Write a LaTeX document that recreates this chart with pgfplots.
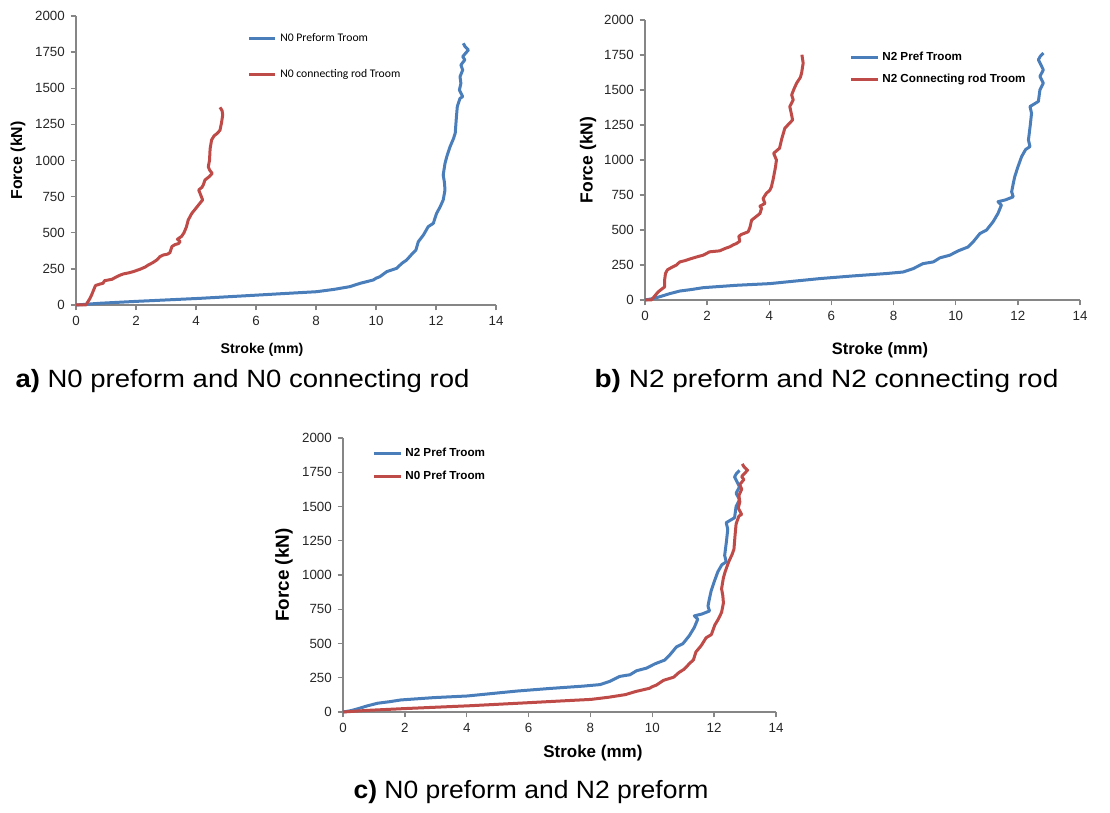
\documentclass[border=0pt]{standalone}
\usepackage{pgfplots}
\pgfplotsset{compat=1.18}
\usepackage{pgfplotstable}
\usepackage{fontspec}
\setmainfont{Liberation Sans}
\newfontfamily\calfont{Carlito}

\definecolor{xlblue}{HTML}{4A7EBB}
\definecolor{xlred}{HTML}{BE4B48}
\definecolor{xlgray}{HTML}{868686}

% Force-stroke records (stroke in mm, force in kN)
\pgfplotstableread{
x y
0 0
0.8 12
2 25
4.13 46
6 68
7 80
8.02 92
8.6 108
9.13 127
9.47 150
9.91 173
10.0 185
10.13 196
10.36 231
10.69 254
10.86 288
11.02 311
11.24 362
11.33 380
11.41 438
11.58 484
11.74 542
11.91 565
12.02 634
12.14 680
12.24 727
12.3 796
12.28 850
12.24 900
12.3 980
12.36 1027
12.47 1096
12.58 1150
12.64 1188
12.68 1300
12.71 1373
12.8 1430
12.89 1442
12.78 1488
12.83 1534
12.8 1580
12.89 1626
12.83 1661
12.96 1696
12.89 1719
13.08 1765
12.97 1788
12.91 1811
}\NzeroPref

\pgfplotstableread{
x y
0 0
0.33 0
0.45 40
0.52 69
0.6 110
0.65 135
0.8 145
0.9 150
0.95 168
1.05 172
1.2 178
1.36 196
1.45 205
1.58 215
1.75 222
1.91 231
2.13 247
2.3 262
2.41 277
2.55 292
2.69 311
2.8 335
2.91 346
3.05 352
3.13 362
3.2 405
3.3 418
3.42 425
3.47 440
3.38 455
3.45 465
3.52 475
3.6 500
3.68 540
3.74 588
3.86 634
4.0 670
4.13 704
4.22 727
4.15 765
4.09 796
4.2 815
4.24 830
4.3 865
4.45 890
4.54 911
4.45 935
4.41 957
4.45 1000
4.47 1080
4.52 1142
4.6 1170
4.72 1190
4.8 1210
4.85 1260
4.89 1315
4.87 1345
4.8 1368
}\NzeroRod

\pgfplotstableread{
x y
0 0
0.26 10
0.5 25
0.79 45
1.12 64
1.5 75
1.87 88
2.94 105
4.02 117
5.09 141
5.63 153
6.7 172
7.77 189
8.31 200
8.63 224
8.95 260
9.28 272
9.49 301
9.81 320
10.08 351
10.4 379
10.56 415
10.78 475
10.99 499
11.2 558
11.36 618
11.47 678
11.36 702
11.6 715
11.85 737
11.8 773
11.85 830
11.9 881
12.0 950
12.12 1024
12.25 1075
12.39 1096
12.34 1143
12.4 1250
12.44 1334
12.39 1382
12.66 1418
12.71 1501
12.82 1549
12.71 1597
12.82 1644
12.66 1716
12.72 1740
12.82 1764
}\NtwoPref

\pgfplotstableread{
x y
0 0
0.2 0
0.3 25
0.42 57
0.55 80
0.63 93
0.63 141
0.66 190
0.72 215
0.85 232
1.0 248
1.12 272
1.3 282
1.49 296
1.7 310
1.87 320
2.08 344
2.4 351
2.6 370
2.73 380
2.85 395
2.94 403
3.05 420
3.02 455
3.1 468
3.32 487
3.38 520
3.43 570
3.6 600
3.7 618
3.75 654
3.7 670
3.86 690
3.8 725
3.9 760
4.02 785
4.07 809
4.1 840
4.12 857
4.2 950
4.23 1000
4.14 1048
4.33 1084
4.4 1150
4.5 1227
4.75 1286
4.72 1320
4.66 1382
4.77 1430
4.72 1465
4.8 1510
4.88 1549
5.0 1590
5.04 1621
5.09 1692
5.05 1752
}\NtwoRod

\pgfplotsset{
  fdstyle/.style={
    scale only axis,
    axis lines=left,
    axis line style={xlgray, line width=0.8pt, -},
    xmin=0, xmax=14, ymin=0, ymax=2000,
    xtick={0,2,...,14},
    ytick={0,250,...,2000},
    tick align=outside,
    major tick length=3.2pt,
    tick style={xlgray, line width=0.8pt},
    /pgf/number format/assume math mode=true,
    /pgf/number format/1000 sep={},
    ticklabel style={font=\fontsize{8}{9}\selectfont, text=black!85},
    clip=false,
    legend cell align=left,
    legend image code/.code={\draw[#1] (0pt,0pt) -- (16pt,0pt);},
    every axis plot/.append style={line width=1.8pt, line join=round, mark=none},
  }
}

\begin{document}
\begin{tikzpicture}
\useasboundingbox (0,0) rectangle (666pt,487.2pt);

% a) N0 preform and N0 connecting rod
\begin{axis}[fdstyle,
  at={(45.6pt,304.2pt)}, anchor=south west,
  width=252pt, height=173.4pt,
  xlabel={Stroke (mm)}, ylabel={Force (kN)},
  xlabel style={at={(axis description cs:0.443,0)}, anchor=center, yshift=-27pt, font=\bfseries\fontsize{8.5}{10}\selectfont},
  ylabel style={at={(axis description cs:0,0.5)}, anchor=center, yshift=34.8pt, font=\bfseries\fontsize{9.5}{11}\selectfont},
  legend style={at={(axis description cs:0.407,0.952)}, anchor=north west,
    draw=none, fill=none, inner sep=0pt, row sep=11pt,
    font=\calfont\fontsize{7}{8}\selectfont},
]
\addplot[xlblue] table {\NzeroPref};
\addlegendentry{N0 Preform Troom}
\addplot[xlred] table {\NzeroRod};
\addlegendentry{N0 connecting rod Troom}
\end{axis}

% b) N2 preform and N2 connecting rod
\begin{axis}[fdstyle,
  at={(387pt,307.2pt)}, anchor=south west,
  width=261pt, height=168pt,
  xlabel={Stroke (mm)}, ylabel={Force (kN)},
  xlabel style={at={(axis description cs:0.54,0)}, anchor=center, yshift=-30pt, font=\bfseries\fontsize{9.9}{11}\selectfont},
  ylabel style={at={(axis description cs:0,0.5)}, anchor=center, yshift=34.2pt, font=\bfseries\fontsize{10.5}{12}\selectfont},
  legend style={at={(axis description cs:0.469,0.9)}, anchor=north west,
    draw=none, fill=none, inner sep=0pt, row sep=3pt,
    font=\bfseries\fontsize{7}{8}\selectfont},
]
\addplot[xlblue] table {\NtwoPref};
\addlegendentry{N2 Pref Troom}
\addplot[xlred] table {\NtwoRod};
\addlegendentry{N2 Connecting rod Troom}
\end{axis}

% c) N0 preform and N2 preform
\begin{axis}[fdstyle,
  at={(205.8pt,60pt)}, anchor=south west,
  width=259.8pt, height=164.4pt,
  xlabel={Stroke (mm)}, ylabel={Force (kN)},
  xlabel style={at={(axis description cs:0.577,0)}, anchor=center, yshift=-24.6pt, font=\bfseries\fontsize{10.2}{12}\selectfont},
  ylabel style={at={(axis description cs:0,0.5)}, anchor=center, yshift=35.4pt, font=\bfseries\fontsize{11.3}{13}\selectfont},
  legend style={at={(axis description cs:0.067,0.975)}, anchor=north west,
    draw=none, fill=none, inner sep=0pt, row sep=3pt,
    font=\bfseries\fontsize{7}{8}\selectfont},
]
\addplot[xlblue] table {\NtwoPref};
\addlegendentry{N2 Pref Troom}
\addplot[xlred] table {\NzeroPref};
\addlegendentry{N0 Pref Troom}
\end{axis}

% Panel captions
\node[font=\fontsize{15}{17}\selectfont] at (145.5pt,258.6pt) {\scalebox{1.1}[1]{\textbf{a)} N0 preform and N0 connecting rod}};
\node[font=\fontsize{15}{17}\selectfont] at (495.9pt,258.6pt) {\scalebox{1.12}[1]{\textbf{b)} N2 preform and N2 connecting rod}};
\node[font=\fontsize{15}{17}\selectfont] at (318.6pt,12pt) {\scalebox{1.06}[1]{\textbf{c)} N0 preform and N2 preform}};
\end{tikzpicture}
\end{document}
